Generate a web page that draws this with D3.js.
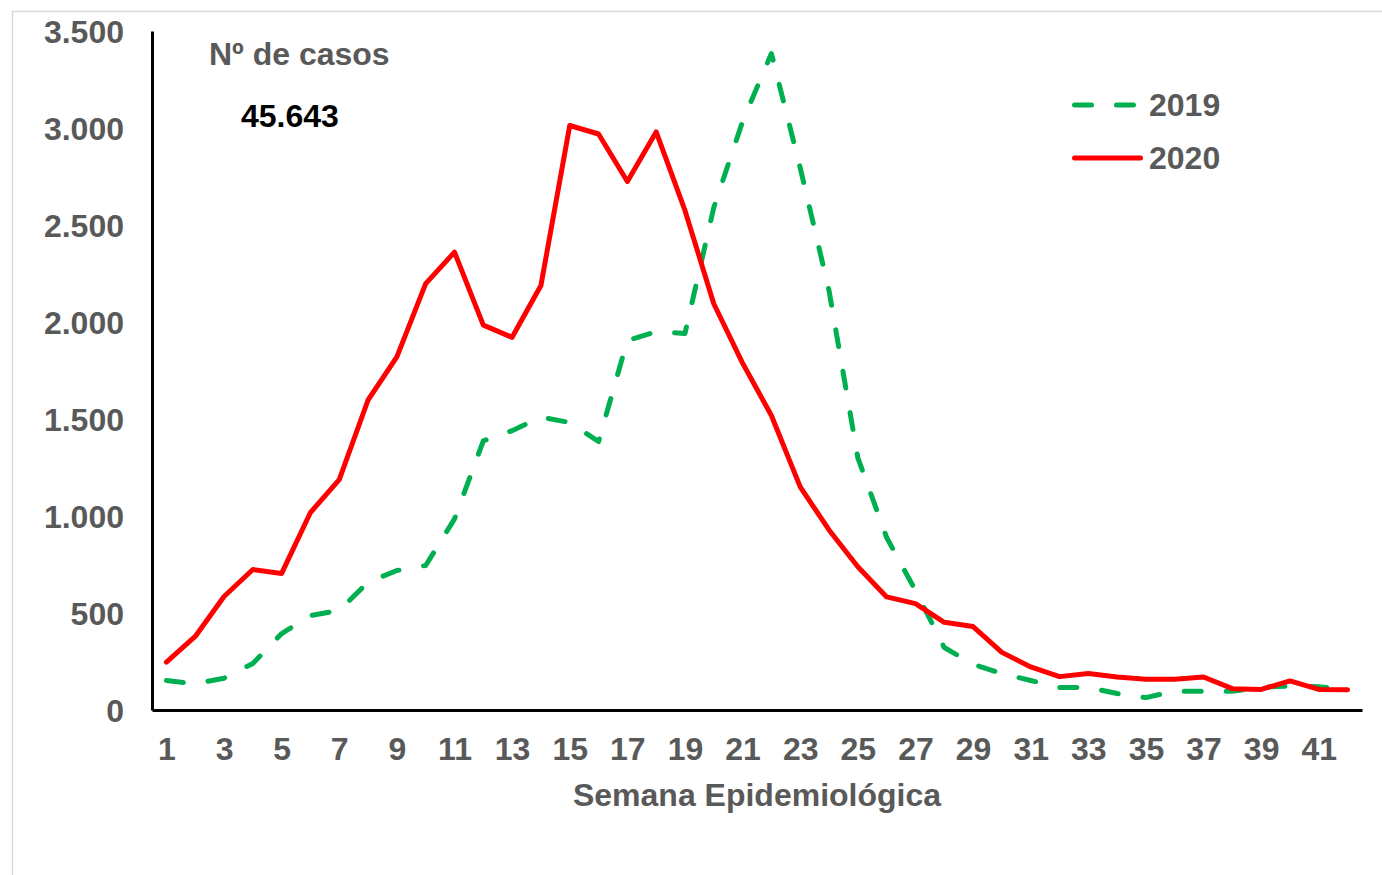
<!DOCTYPE html>
<html>
<head>
<meta charset="utf-8">
<script src="https://cdn.jsdelivr.net/npm/d3@7"></script>
<style>
  html, body { margin: 0; padding: 0; background: #fff; }
  svg { display: block; font-family: "Liberation Sans", Arial, sans-serif; }
</style>
</head>
<body>
<svg id="chart" width="1382" height="875"></svg>
<script>
const weeks = d3.range(1, 43);
const cases2019 = [152, 135, 164, 240, 394, 487, 513, 659, 719, 745, 985, 1387, 1440, 1510, 1482, 1384, 1905, 1950, 1941, 2590, 3034, 3384, 2795, 2162, 1300, 889, 616, 322, 236, 188, 152, 116, 116, 85, 64, 97, 97, 97, 118, 123, 120, 104];
const cases2020 = [247, 379, 585, 724, 704, 1018, 1188, 1598, 1820, 2198, 2360, 1984, 1921, 2188, 3013, 2969, 2724, 2980, 2575, 2094, 1788, 1518, 1150, 928, 738, 583, 548, 452, 430, 297, 222, 172, 188, 170, 158, 158, 170, 110, 106, 150, 106, 105];
const seriesNames = ["2019", "2020"];
const yTicks = [0, 500, 1000, 1500, 2000, 2500, 3000, 3500];
const xTicks = d3.range(1, 43, 2);
const totalLabel = "Nº de casos";
const totalValue = "45.643";
const xTitle = "Semana Epidemiológica";

const svg = d3.select("#chart");
const grey = "#595959";
const green = "#00B050";
const red = "#FF0000";
const fs = 32;
const ff = "'Liberation Sans', Arial, sans-serif";

const loc = d3.formatLocale({decimal: ",", thousands: ".", grouping: [3], currency: ["", ""]});
const fmt = loc.format(",d");

// outer border
svg.append("rect").attr("x", 12.5).attr("y", 11.5).attr("width", 1400).attr("height", 900)
  .attr("fill", "none").attr("stroke", "#d9d9d9").attr("stroke-width", 1.5);

const x = d3.scalePoint().domain(weeks).range([152, 1362]).padding(0.5);
const y = d3.scaleLinear().domain([0, 3500]).range([710, 31]);

// Y axis
const gy = svg.append("g").attr("transform", "translate(152,0)")
  .call(d3.axisLeft(y).tickValues(yTicks).tickSize(0).tickSizeOuter(0).tickPadding(28).tickFormat(fmt));
gy.select(".domain").attr("stroke", "#000").attr("stroke-width", 3);
gy.selectAll("text").attr("fill", grey).attr("font-size", fs).attr("font-weight", "bold")
  .attr("font-family", ff).attr("dy", "0.35em");

// X axis
const gx = svg.append("g").attr("transform", "translate(0,710)")
  .call(d3.axisBottom(x).tickValues(xTicks).tickSize(0).tickSizeOuter(0).tickPadding(27));
gx.select(".domain").attr("stroke", "#000").attr("stroke-width", 3);
gx.selectAll("text").attr("fill", grey).attr("font-size", fs).attr("font-weight", "bold")
  .attr("font-family", ff);

// X title
svg.append("text").attr("x", 757).attr("y", 806).attr("text-anchor", "middle")
  .attr("fill", grey).attr("font-size", fs).attr("font-weight", "bold").text(xTitle);

// lines
const line = d3.line().x((d, i) => x(weeks[i])).y(d => y(d));
svg.append("path").datum(cases2019).attr("d", line).attr("fill", "none")
  .attr("stroke", green).attr("stroke-width", 5).attr("stroke-dasharray", "17,25")
  .attr("stroke-linecap", "round").attr("stroke-linejoin", "round");
svg.append("path").datum(cases2020).attr("d", line).attr("fill", "none")
  .attr("stroke", red).attr("stroke-width", 5)
  .attr("stroke-linecap", "round").attr("stroke-linejoin", "round");

// annotations
svg.append("text").attr("x", 209).attr("y", 65).attr("fill", grey)
  .attr("font-size", fs).attr("font-weight", "bold").text(totalLabel);
svg.append("text").attr("x", 241).attr("y", 127).attr("fill", "#000")
  .attr("font-size", fs).attr("font-weight", "bold").text(totalValue);

// legend
const legend = svg.append("g");
const legendItems = [
  {name: seriesNames[0], color: green, dash: "17,25", y: 105, x2: 1134.5},
  {name: seriesNames[1], color: red, dash: null, y: 158, x2: 1140.5}
];
legendItems.forEach(it => {
  legend.append("line").attr("x1", 1074.5).attr("x2", it.x2).attr("y1", it.y).attr("y2", it.y)
    .attr("stroke", it.color).attr("stroke-width", 5).attr("stroke-linecap", "round")
    .attr("stroke-dasharray", it.dash);
  legend.append("text").attr("x", 1149).attr("y", it.y + 11).attr("fill", grey)
    .attr("font-size", fs).attr("font-weight", "bold").text(it.name);
});
</script>
</body>
</html>
